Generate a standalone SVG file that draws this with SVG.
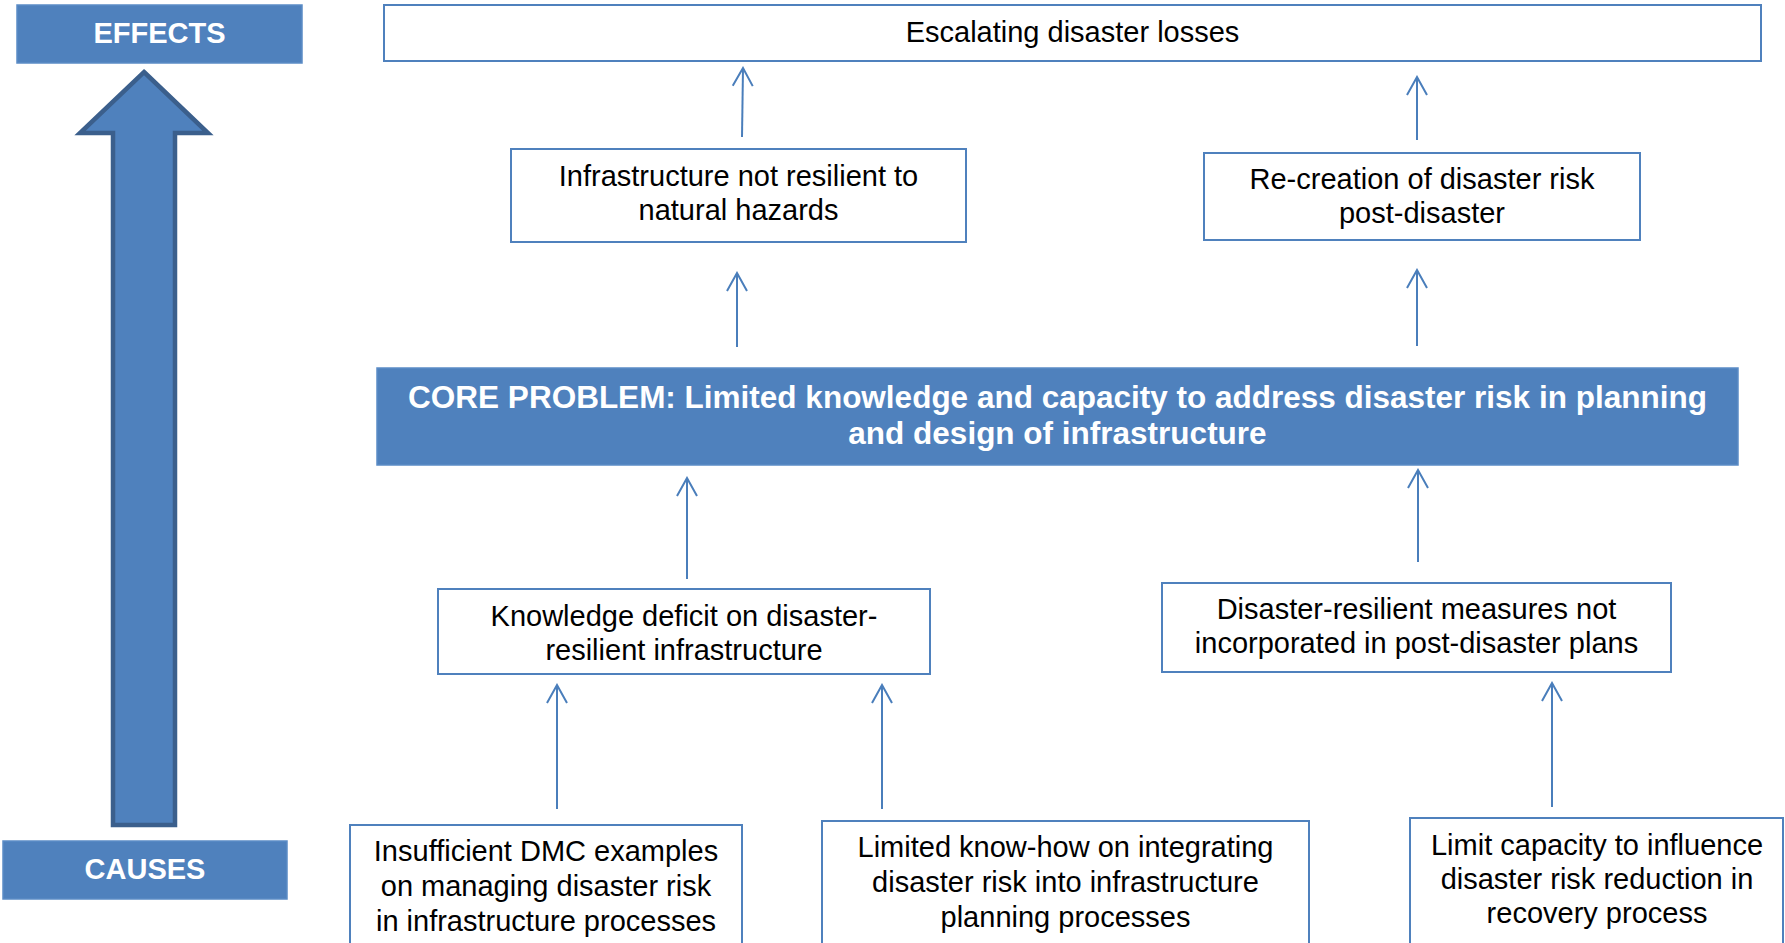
<svg xmlns="http://www.w3.org/2000/svg" width="1785" height="943" viewBox="0 0 1785 943">
<style>
.box{fill:#ffffff;stroke:#4f81bd;stroke-width:2}
.fbox{fill:#4f81bd;stroke:#5b8cc6;stroke-width:1.5}
.t{font-family:"Liberation Sans",Arial,sans-serif;font-size:29px;fill:#000;text-anchor:middle}
.w{font-family:"Liberation Sans",Arial,sans-serif;font-weight:bold;fill:#fff;text-anchor:middle}
.c{stroke:#4a7ebb;stroke-width:2;fill:none;marker-end:url(#ah)}
</style>
<defs>
<marker id="ah" viewBox="-20 -12 22 24" markerWidth="22" markerHeight="24" refX="0" refY="0" markerUnits="userSpaceOnUse" orient="auto">
<path d="M-18,-10 L0,0 L-18,10" fill="none" stroke="#4a7ebb" stroke-width="2"/>
</marker>
</defs>
<rect width="1785" height="943" fill="#ffffff"/>

<g id="big-arrow">
<path d="M144,72 L208,133 L175,133 L175,825 L113,825 L113,133 L80,133 Z" fill="#4f81bd" stroke="#3b5f8c" stroke-width="4.5" stroke-linejoin="miter"/>
</g>

<g id="effects">
<rect class="fbox" x="17" y="5" width="285" height="58"/>
<text class="w" x="159.5" y="43" font-size="29">EFFECTS</text>
</g>

<g id="causes">
<rect class="fbox" x="3" y="841" width="284" height="58"/>
<text class="w" x="145" y="879" font-size="29">CAUSES</text>
</g>

<g id="escalating">
<rect class="box" x="384" y="5" width="1377" height="56"/>
<text class="t" x="1072.5" y="42">Escalating disaster losses</text>
</g>

<g id="infra">
<rect class="box" x="511" y="149" width="455" height="93"/>
<text class="t" x="738.5" y="186">Infrastructure not resilient to</text>
<text class="t" x="738.5" y="220">natural hazards</text>
</g>

<g id="recreation">
<rect class="box" x="1204" y="153" width="436" height="87"/>
<text class="t" x="1422" y="189">Re-creation of disaster risk</text>
<text class="t" x="1422" y="223">post-disaster</text>
</g>

<g id="core">
<rect class="fbox" x="377" y="368" width="1361" height="97"/>
<text class="w" x="1057.5" y="408" font-size="31.5">CORE PROBLEM: Limited knowledge and capacity to address disaster risk in planning</text>
<text class="w" x="1057.5" y="444" font-size="31.5">and design of infrastructure</text>
</g>

<g id="knowledge">
<rect class="box" x="438" y="589" width="492" height="85"/>
<text class="t" x="684" y="626">Knowledge deficit on disaster-</text>
<text class="t" x="684" y="660">resilient infrastructure</text>
</g>

<g id="measures">
<rect class="box" x="1162" y="583" width="509" height="89"/>
<text class="t" x="1416.5" y="619">Disaster-resilient measures not</text>
<text class="t" x="1416.5" y="653">incorporated in post-disaster plans</text>
</g>

<g id="insufficient">
<rect class="box" x="350" y="825" width="392" height="130"/>
<text class="t" x="546" y="861">Insufficient DMC examples</text>
<text class="t" x="546" y="896">on managing disaster risk</text>
<text class="t" x="546" y="931">in infrastructure processes</text>
</g>

<g id="limited">
<rect class="box" x="822" y="821" width="487" height="134"/>
<text class="t" x="1065.5" y="857">Limited know-how on integrating</text>
<text class="t" x="1065.5" y="892">disaster risk into infrastructure</text>
<text class="t" x="1065.5" y="927">planning processes</text>
</g>

<g id="limit-capacity">
<rect class="box" x="1410" y="818" width="373" height="137"/>
<text class="t" x="1597" y="855">Limit capacity to influence</text>
<text class="t" x="1597" y="889">disaster risk reduction in</text>
<text class="t" x="1597" y="923">recovery process</text>
</g>

<g id="connectors">
<line class="c" x1="742" y1="137" x2="743" y2="68"/>
<line class="c" x1="1417" y1="140" x2="1417" y2="77"/>
<line class="c" x1="737" y1="347" x2="737" y2="273"/>
<line class="c" x1="1417" y1="346" x2="1417" y2="270"/>
<line class="c" x1="687" y1="579" x2="687" y2="478"/>
<line class="c" x1="1418" y1="562" x2="1418" y2="470"/>
<line class="c" x1="557" y1="809" x2="557" y2="685"/>
<line class="c" x1="882" y1="809" x2="882" y2="685"/>
<line class="c" x1="1552" y1="807" x2="1552" y2="683"/>
</g>
</svg>
